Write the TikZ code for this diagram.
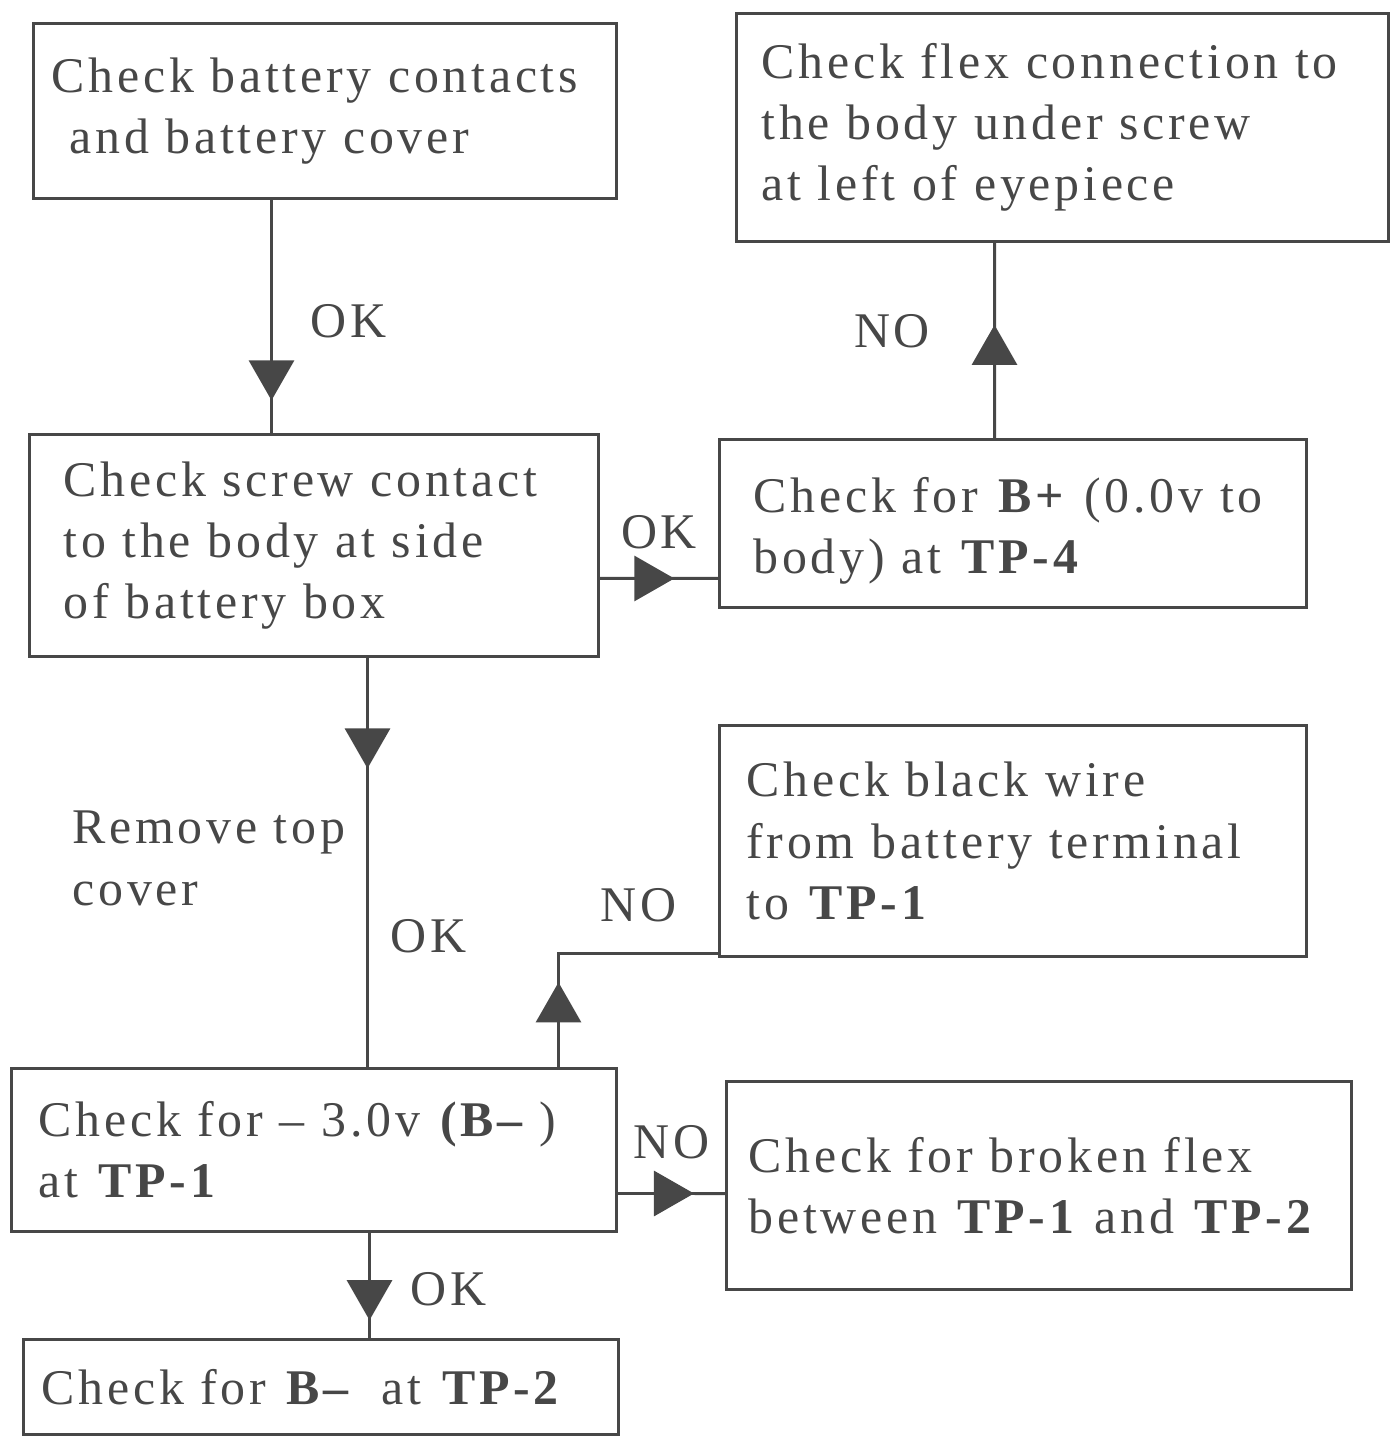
\documentclass[tikz,border=0pt]{standalone}
\usepackage{fontspec}
\setmainfont{Liberation Serif}[LetterSpace=7.5]
\usetikzlibrary{arrows.meta,positioning,decorations.markings}
\definecolor{ink}{gray}{0.28}

\begin{document}
\begin{tikzpicture}[
    chkbox/.style={draw=ink, line width=0.85pt, anchor=north west, align=left, text=ink, font=\fontsize{14.2}{17.4}\selectfont},
    lbl/.style={text=ink, inner sep=0pt, font=\fontsize{14.2}{17.4}\selectfont},
    link/.style={draw=ink, line width=0.85pt},
    midtip/.style={postaction={decorate}, decoration={markings, mark=at position #1 with {\arrow{Triangle[width=0.45cm,length=0.4cm]}}}}
]
    \useasboundingbox (0,0) rectangle (13.89,-14.36);

    \node[chkbox, inner xsep=0.18cm, text width=5.47cm, minimum height=1.75cm] (battery) at (0.32,-0.22) {Check battery contacts\\\hspace*{0.18cm}and battery cover};
    \node[chkbox, inner xsep=0.25cm, text width=6.02cm, minimum height=2.28cm] (flex) at (7.35,-0.12) {Check flex connection to\\the body under screw\\at left of eyepiece};
    \node[chkbox, inner xsep=0.34cm, text width=5.01cm, minimum height=2.22cm] (screw) at (0.28,-4.33) {Check screw contact\\to the body at side\\of battery box};
    \node[chkbox, inner xsep=0.34cm, text width=5.19cm, minimum height=1.68cm] (bplus) at (7.18,-4.38) {\rule{0pt}{0.5cm}Check for \textbf{B+} (0.0v to\\body) at \textbf{TP-4}};
    \node[chkbox, inner xsep=0.27cm, text width=5.33cm, minimum height=2.31cm] (wire) at (7.18,-7.24) {Check black wire\\from battery terminal\\to \textbf{TP-1}};
    \node[chkbox, inner xsep=0.27cm, text width=5.51cm, minimum height=1.63cm] (minus) at (0.10,-10.67) {Check for -- 3.0v \textbf{(B--} )\\at \textbf{TP-1}};
    \node[chkbox, inner xsep=0.22cm, text width=5.81cm, minimum height=2.08cm] (broken) at (7.25,-10.80) {Check for broken flex\\between \textbf{TP-1} and \textbf{TP-2}};
    \node[chkbox, inner xsep=0.18cm, text width=5.59cm, minimum height=0.95cm] (tptwo) at (0.22,-13.38) {Check for \textbf{B--}\ \ at \textbf{TP-2}};

    \draw[link, midtip=0.86] ([xshift=-0.535cm]battery.south) -- ([xshift=-0.425cm]screw.north) node[lbl, pos=0.52, right=0.38cm] {OK};
    \draw[link, midtip=0.63] ([yshift=-0.33cm]screw.east) -- ([yshift=-0.55cm]bplus.west) node[lbl, pos=0.5, above=0.28cm] {OK};
    \draw[link, midtip=0.58] ([xshift=-0.185cm]bplus.north) -- ([xshift=-0.68cm]flex.south) node[lbl, pos=0.55, left=0.63cm] {NO};
    \draw[link, midtip=0.27] ([xshift=0.535cm]screw.south) -- ([xshift=0.535cm]minus.north) node[lbl, pos=0.49, left=0.21cm, align=left] {Remove top\\cover} node[lbl, pos=0.68, right=0.22cm] {OK};
    \draw[link, midtip=0.31] ([xshift=2.445cm]minus.north) |- ([yshift=-1.125cm]wire.west) node[lbl, pos=0.75, above=0.3cm] {NO};
    \draw[link, midtip=0.71] ([yshift=-0.435cm]minus.east) -- ([yshift=-0.08cm]broken.west) node[lbl, pos=0.5, above=0.33cm] {NO};
    \draw[link, midtip=0.83] ([xshift=0.555cm]minus.south) -- ([xshift=0.485cm]tptwo.north) node[lbl, pos=0.54, right=0.4cm] {OK};
\end{tikzpicture}
\end{document}
